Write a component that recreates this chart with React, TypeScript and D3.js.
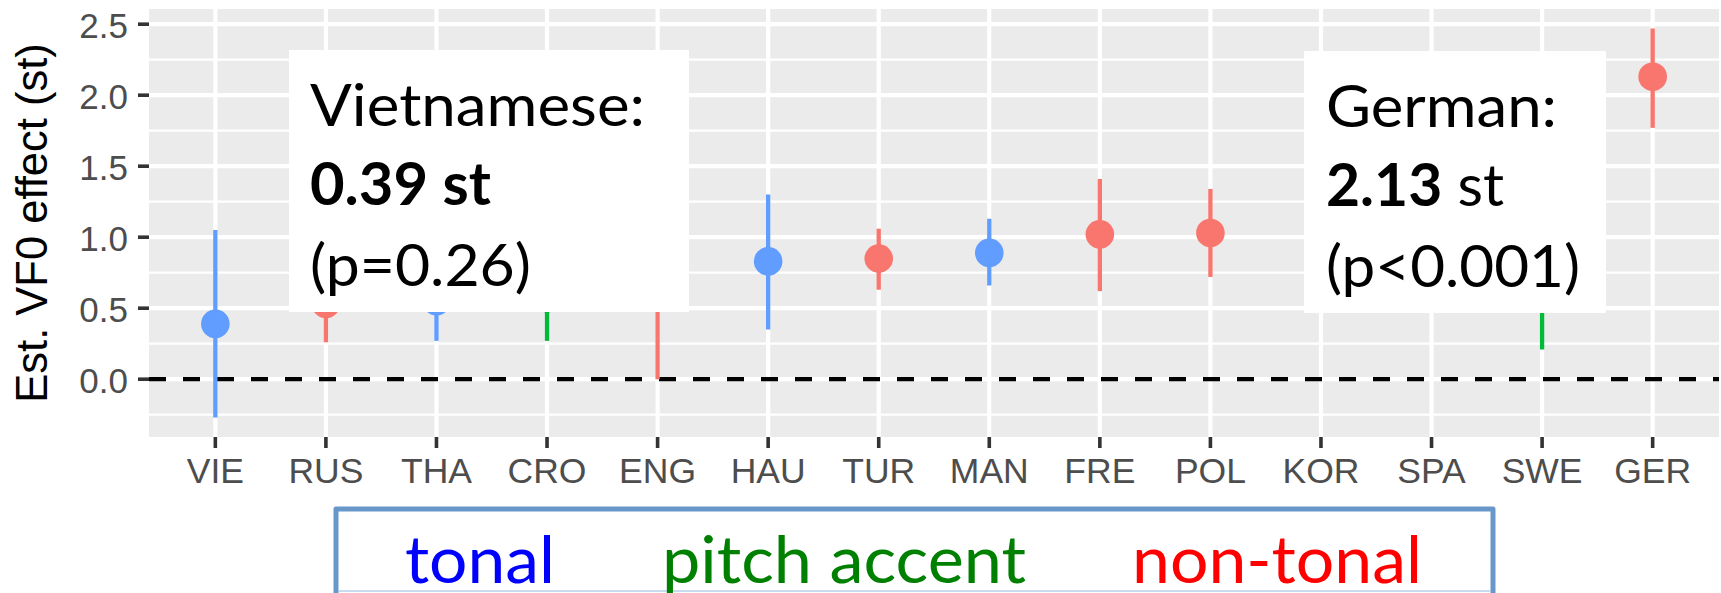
import React from "react";
import * as d3 from "d3";

// Languages along the x axis
const languages = ["VIE", "RUS", "THA", "CRO", "ENG", "HAU", "TUR", "MAN", "FRE", "POL", "KOR", "SPA", "SWE", "GER"];
// Tone category of each language
const toneGroups = [
  "tonal", "non-tonal", "tonal", "pitch accent", "non-tonal", "tonal", "non-tonal",
  "tonal", "non-tonal", "non-tonal", "non-tonal", "non-tonal", "pitch accent", "non-tonal",
];
// Estimated VF0 effect (semitones) with interval bounds
const estimates = [0.39, 0.53, 0.55, 0.57, 0.7, 0.83, 0.85, 0.89, 1.02, 1.03, 1.1, 1.2, 1.2, 2.13];
const lowerBounds = [-0.27, 0.26, 0.27, 0.27, 0.0, 0.35, 0.63, 0.66, 0.62, 0.72, 0.6, 0.7, 0.21, 1.77];
const upperBounds = [1.05, 0.8, 0.83, 0.87, 1.4, 1.3, 1.06, 1.13, 1.41, 1.34, 1.6, 1.7, 2.19, 2.47];

const yTicks = [0, 0.5, 1, 1.5, 2, 2.5];
const yMinor = [-0.25, 0.25, 0.75, 1.25, 1.75, 2.25];

const groupNames = ["tonal", "pitch accent", "non-tonal"];
const groupColors = ["#619CFF", "#00BA38", "#F8766D"];
const legendColors = ["#0000FF", "#008000", "#FF0000"];

const W = 1721;
const H = 593;
const panel = { left: 149, right: 1719, top: 9, bottom: 437 };
const axisFont = "'Liberation Sans', Arial, Helvetica, sans-serif";
const noteFont = "Lato, 'Open Sans', sans-serif";

export default function App() {
  const lo = d3.min(lowerBounds) as number;
  const hi = d3.max(upperBounds) as number;
  const pad = (hi - lo) * 0.05;
  const y = d3.scaleLinear().domain([lo - pad, hi + pad]).range([panel.bottom, panel.top]);

  const band = (panel.right - panel.left) / (languages.length - 1 + 1.2);
  const x = d3
    .scalePoint<string>()
    .domain(languages)
    .range([panel.left + 0.6 * band, panel.right - 0.6 * band]);

  const color = d3.scaleOrdinal<string, string>().domain(groupNames).range(groupColors);
  const legendColor = d3.scaleOrdinal<string, string>().domain(groupNames).range(legendColors);

  const rows = languages.map((lang, i) => ({
    lang,
    group: toneGroups[i],
    est: estimates[i],
    lo: lowerBounds[i],
    hi: upperBounds[i],
  }));

  const legendItems = [
    { name: "tonal", x: 405, w: 150 },
    { name: "pitch accent", x: 662, w: 364 },
    { name: "non-tonal", x: 1132, w: 290 },
  ];

  return (
    <svg
      width={W}
      height={H}
      viewBox={`0 0 ${W} ${H}`}
      style={{ position: "absolute", left: 0, top: 0, background: "#fff" }}
    >
      <rect x={0} y={0} width={W} height={H} fill="#fff" />

      {/* panel */}
      <rect
        x={panel.left}
        y={panel.top}
        width={panel.right - panel.left}
        height={panel.bottom - panel.top}
        fill="#EBEBEB"
      />
      {yMinor.map((v) => (
        <line key={"mn" + v} x1={panel.left} x2={panel.right} y1={y(v)} y2={y(v)} stroke="#fff" strokeWidth={2.2} />
      ))}
      {yTicks.map((v) => (
        <line key={"mj" + v} x1={panel.left} x2={panel.right} y1={y(v)} y2={y(v)} stroke="#fff" strokeWidth={4.2} />
      ))}
      {languages.map((l) => (
        <line key={"vx" + l} x1={x(l)} x2={x(l)} y1={panel.top} y2={panel.bottom} stroke="#fff" strokeWidth={4.2} />
      ))}

      {/* reference line at zero */}
      <line
        x1={panel.left}
        x2={panel.right}
        y1={y(0)}
        y2={y(0)}
        stroke="#000"
        strokeWidth={4.3}
        strokeDasharray="17 17"
      />

      {/* intervals and estimates */}
      {rows.map((r) => (
        <g key={r.lang}>
          <line x1={x(r.lang)} x2={x(r.lang)} y1={y(r.lo)} y2={y(r.hi)} stroke={color(r.group)} strokeWidth={4.3} />
          <circle cx={x(r.lang)} cy={y(r.est)} r={14.3} fill={color(r.group)} />
        </g>
      ))}

      {/* y axis */}
      {yTicks.map((v) => (
        <g key={"yt" + v}>
          <line x1={panel.left - 11} x2={panel.left} y1={y(v)} y2={y(v)} stroke="#333" strokeWidth={3.6} />
          <text
            x={128}
            y={y(v) + 14}
            textAnchor="end"
            fontFamily={axisFont}
            fontSize={35}
            fill="#4D4D4D"
          >
            {v.toFixed(1)}
          </text>
        </g>
      ))}
      <text
        transform={`translate(47, ${(panel.top + panel.bottom) / 2}) rotate(-90)`}
        textAnchor="middle"
        fontFamily={axisFont}
        fontSize={43.5}
        fill="#000"
      >
        Est. VF0 effect (st)
      </text>

      {/* x axis */}
      {languages.map((l) => (
        <g key={"xt" + l}>
          <line x1={x(l)} x2={x(l)} y1={panel.bottom} y2={panel.bottom + 11} stroke="#333" strokeWidth={3.6} />
          <text x={x(l)} y={483} textAnchor="middle" fontFamily={axisFont} fontSize={35.5} fill="#4D4D4D">
            {l}
          </text>
        </g>
      ))}

      {/* callout: Vietnamese */}
      <rect x={289} y={50} width={400} height={262} fill="#fff" />
      <g fontFamily={noteFont} fontSize={59} fill="#000">
        <text x={310} y={126} textLength={335} lengthAdjust="spacingAndGlyphs">
          Vietnamese:
        </text>
        <text x={310} y={205} fontWeight={700} textLength={181} lengthAdjust="spacingAndGlyphs">
          0.39 st
        </text>
        <text x={310} y={286} textLength={221} lengthAdjust="spacingAndGlyphs">
          (p=0.26)
        </text>
      </g>

      {/* callout: German */}
      <rect x={1304} y={51} width={302} height={262} fill="#fff" />
      <g fontFamily={noteFont} fontSize={59} fill="#000">
        <text x={1326} y={127} textLength={231} lengthAdjust="spacingAndGlyphs">
          German:
        </text>
        <text x={1326} y={206} textLength={178} lengthAdjust="spacingAndGlyphs">
          <tspan fontWeight={700}>2.13</tspan>
          <tspan> st</tspan>
        </text>
        <text x={1326} y={287} textLength={254} lengthAdjust="spacingAndGlyphs">
          (p&lt;0.001)
        </text>
      </g>

      {/* category key */}
      <rect x={336} y={509} width={1157} height={140} fill="#fff" stroke="#6897C9" strokeWidth={5} strokeLinejoin="round" />
      <line x1={339} x2={1490} y1={591} y2={591} stroke="#C8DCEF" strokeWidth={2} />
      {legendItems.map((it) => (
        <text
          key={it.name}
          x={it.x}
          y={583}
          fontFamily={noteFont}
          fontSize={66}
          fill={legendColor(it.name)}
          textLength={it.w}
          lengthAdjust="spacingAndGlyphs"
        >
          {it.name}
        </text>
      ))}
    </svg>
  );
}
